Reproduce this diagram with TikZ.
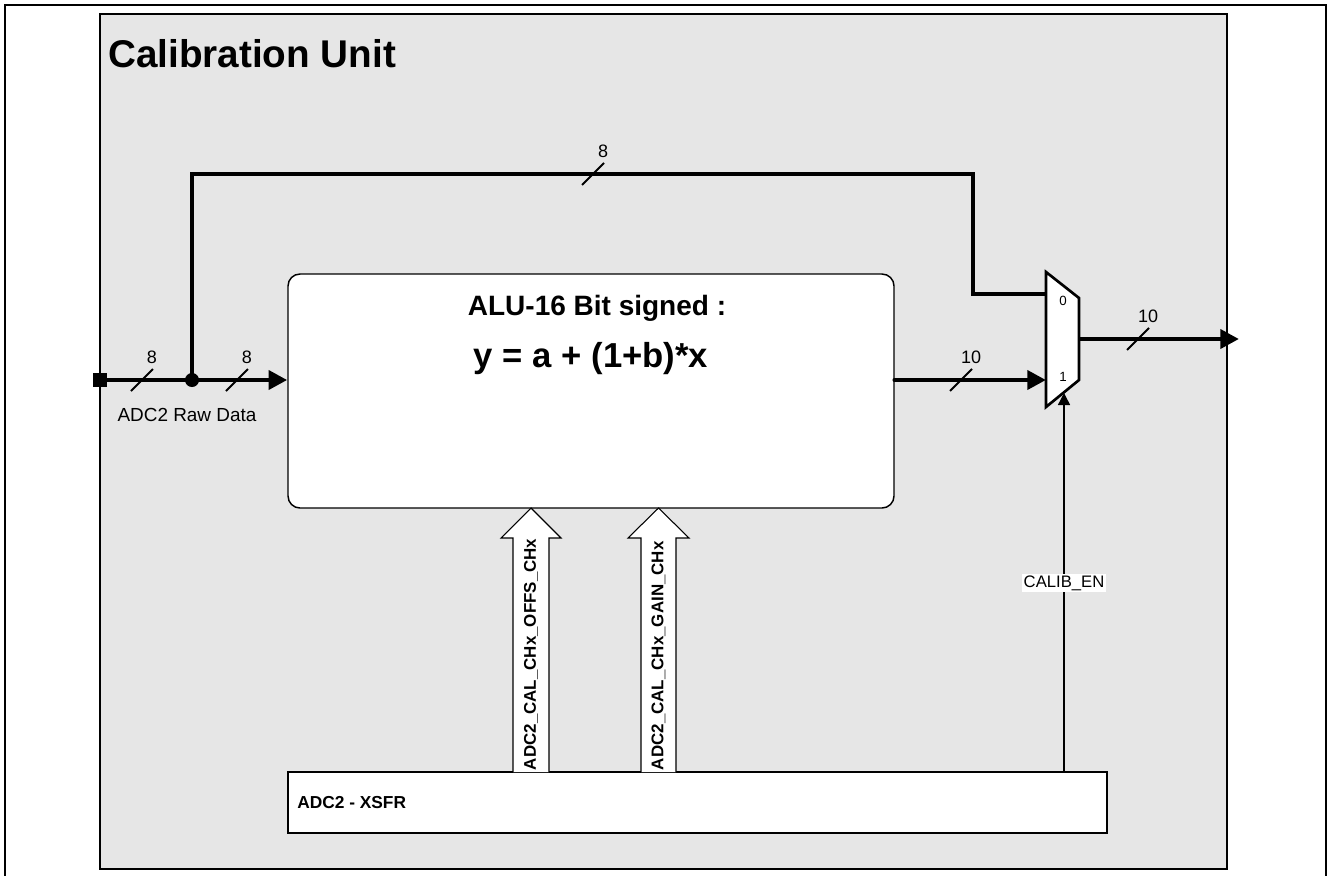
\documentclass[tikz,border=0pt]{standalone}
\usepackage{fontspec}
\setmainfont{Liberation Sans}
\usetikzlibrary{arrows.meta,calc}
\definecolor{bggray}{HTML}{E6E6E6}
\newcommand\buswidth[4]{%
  \draw[line width=1.5pt] (#1-11,#2+11) -- (#1+11,#2-11);
  \node[font=\fontsize{13.5}{15}\selectfont, anchor=base, inner sep=0] (#4) at (#1+10,#2-17) {#3};}
\begin{document}
\begin{tikzpicture}[x=0.75pt,y=-0.75pt,
  bus/.style={line width=3.5pt},
  busarrow/.style={bus,-{Triangle[length=14pt,width=14pt]}},
  sig/.style={line width=1.1pt},
  frame/.style={line width=1.1pt},
  boxnode/.style={draw, fill=white, line width=1.1pt, inner sep=0},
  blockarrow/.style={draw, fill=white, line width=0.8pt},
  arrowtext/.style={rotate=90, anchor=west, inner sep=0.5pt, font=\bfseries\fontsize{12.7}{14}\selectfont},
]
\useasboundingbox (0,0) rectangle (1330,875);
% outer frame (open at the bottom)
\draw[frame] (5,885) -- (5,5) -- (1326,5) -- (1326,885);
% calibration unit
\draw[frame, fill=bggray] (100,14) rectangle (1227,869);
\node[anchor=base west, inner sep=0, font=\bfseries\fontsize{29}{33}\selectfont] (title) at (108,67) {Calibration Unit};

% ALU
\node[boxnode, rounded corners=9pt, minimum width=454.5pt, minimum height=175.5pt] (alu) at (591,391) {};
\node[anchor=base, inner sep=0, font=\bfseries\fontsize{21}{25}\selectfont] (alutitle) at (597,315) {ALU-16 Bit signed :};
\node[anchor=base, inner sep=0, font=\bfseries\fontsize{26}{30}\selectfont] (aluform) at (591,367) {y = a + (1+b)*x};

% XSFR
\node[boxnode, minimum width=614.25pt, minimum height=45.75pt] (xsfr) at (697.5,802.5) {};
\node[anchor=base west, inner sep=0, font=\bfseries\fontsize{13}{15}\selectfont] (xsfrtext) at (297,808) {ADC2 - XSFR};

% block arrows
\draw[blockarrow] (513,772) -- (513,538) -- (501,538) -- (531,508) -- (561,538) -- (549,538) -- (549,772);
\draw[blockarrow] (641,772) -- (641,538) -- (628,538) -- (658.5,508) -- (689,538) -- (676,538) -- (676,772);
\node[arrowtext] (offs) at (531,771) {ADC2\_CAL\_CHx\_OFFS\_CHx};
\node[arrowtext] (gain) at (658.5,771) {ADC2\_CAL\_CHx\_GAIN\_CHx};

% multiplexer
\draw[line width=2pt, fill=white, line join=miter] (1046,272) -- (1079,298) -- (1079,380) -- (1046,407) -- cycle;
\coordinate (muxin0) at (1046,294);
\coordinate (muxin1) at (1046,380);
\coordinate (muxout) at (1079,339);
\coordinate (muxsel) at (1064,393);
\coordinate (outend) at (1239,339);
\node[font=\fontsize{10}{11}\selectfont, inner sep=0] (mux0) at (1063,301) {0};
\node[font=\fontsize{10}{11}\selectfont, inner sep=0] (mux1) at (1063,377) {1};

% input
\node[fill=black, minimum size=11pt, inner sep=0] (src) at (100,380) {};
\node[circle, fill=black, minimum size=10.5pt, inner sep=0] (jn) at (192,380) {};
\node[anchor=base, inner sep=0, font=\fontsize{14.2}{16}\selectfont] (rawlbl) at (187,421) {ADC2 Raw Data};

% connectors
\draw[bus] (src.center) -- (jn.center);
\draw[busarrow] (jn.center) -- (alu.west |- jn);
\draw[bus, line join=miter] (jn.center) -- (192,174) -- (973,174) -- (973,294) -- (muxin0);
\draw[busarrow, line cap=round] (alu.east |- jn) -- (muxin1);
\draw[busarrow] (muxout) -- (outend);
\draw[sig, -{Triangle[length=9pt,width=9pt]}] (xsfr.north -| muxsel) -- (muxsel);
\node[fill=white, inner sep=1pt, font=\fontsize{12.5}{14}\selectfont] (calib) at (1064,583) {CALIB\_EN};

% bus width marks
\buswidth{142}{380}{8}{w1}
\buswidth{237}{380}{8}{w2}
\buswidth{593}{174}{8}{w3}
\buswidth{961}{380}{10}{w4}
\buswidth{1138}{339}{10}{w5}
\end{tikzpicture}
\end{document}
